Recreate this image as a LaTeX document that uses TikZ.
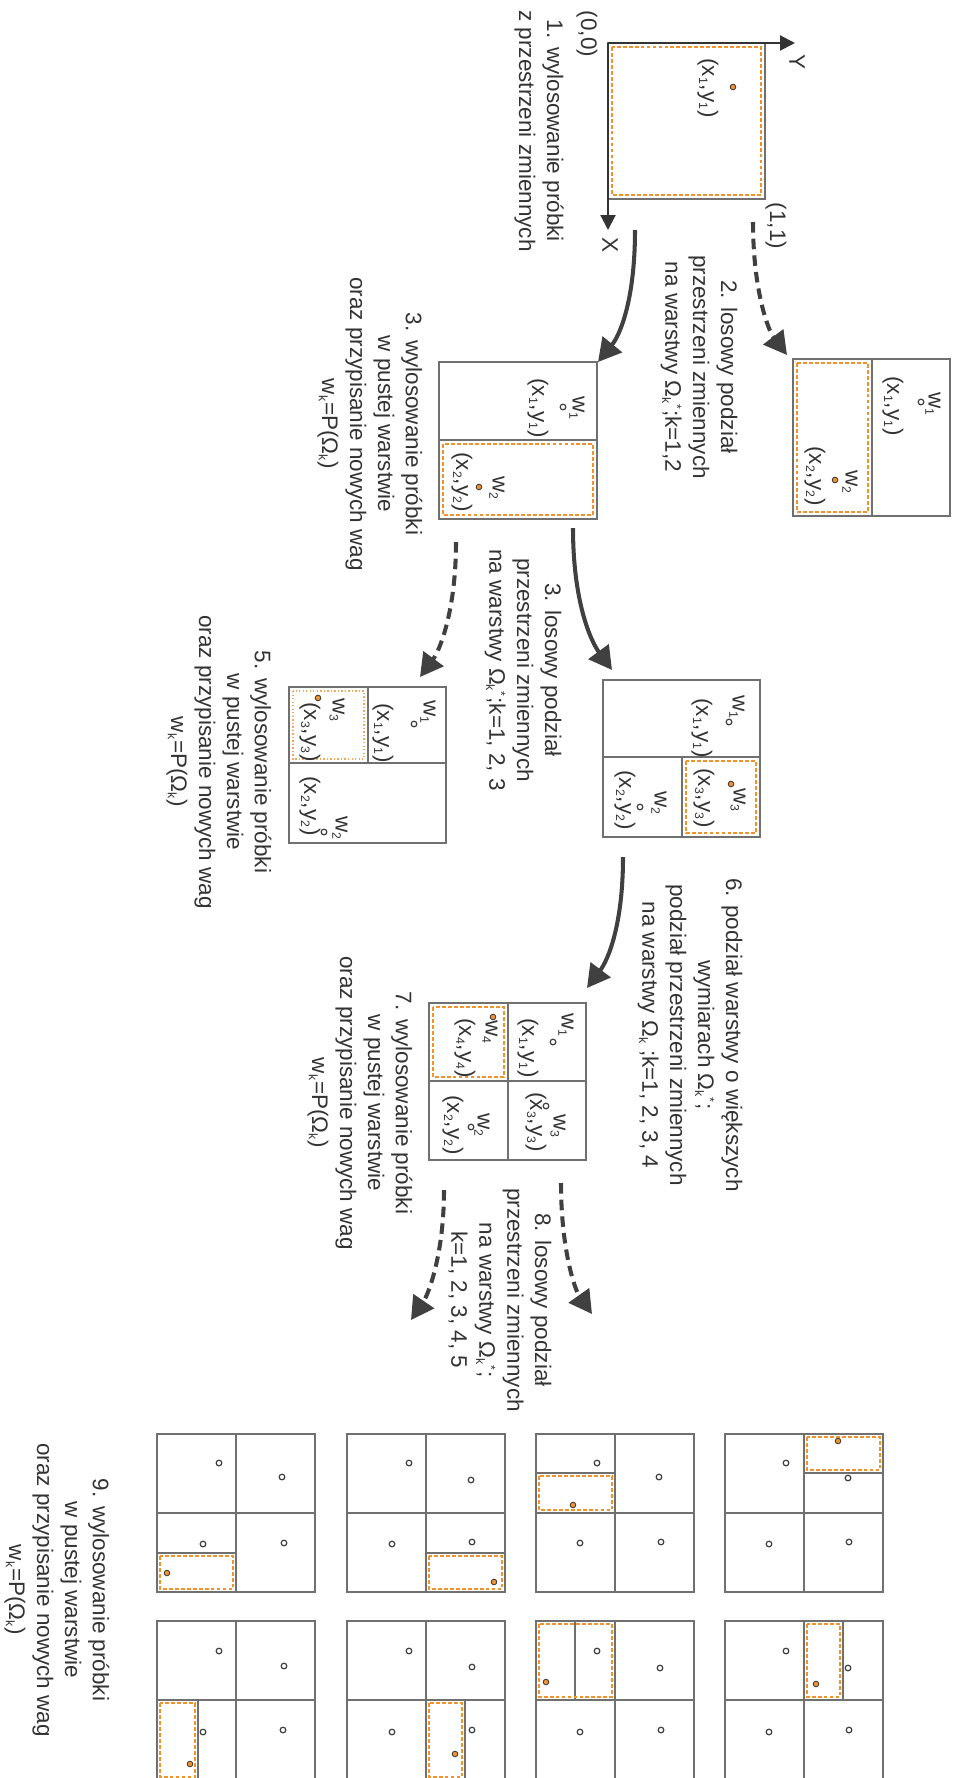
\documentclass[tikz,border=0pt]{standalone}
\usepackage{fontspec}
\setmainfont{Liberation Sans}
\usetikzlibrary{arrows.meta}

\definecolor{boxgray}{HTML}{707070}
\definecolor{arrgray}{HTML}{404040}
\definecolor{txtgray}{HTML}{333333}
\definecolor{sorange}{HTML}{F3922B}

\newcommand{\lsub}[1]{\textsubscript{\fontsize{7}{8}\selectfont #1}}
\newcommand{\wlab}[1]{w\lsub{#1}}
\newcommand{\pxy}[1]{(x\lsub{#1},y\lsub{#1})}
\newcommand{\omk}{Ω\lsub{k}}
\newcommand{\omks}{Ω\lsub{k}\textsuperscript{\fontsize{7}{8}\selectfont *}}

\begin{document}
\begin{tikzpicture}[x=0.02cm, y=-0.02cm,
    box/.style={draw=boxgray, line width=1.1pt},
    samp/.style={draw=sorange, line width=1.2pt, dash pattern=on 2.2pt off 1.2pt},
    sampdot/.style={draw=sorange!80, line width=1.1pt, dash pattern=on 0.8pt off 1.2pt},
    lbl/.style={rotate=-90, text=txtgray, font=\fontsize{12.8}{15.9}\selectfont, inner sep=0pt},
    txt/.style={lbl, align=center},
    pt/.style={draw=arrgray, fill=white, line width=0.7pt},
    opt/.style={draw=arrgray, fill=sorange, line width=0.5pt},
    axis/.style={draw=txtgray, line width=1.2pt, -{Triangle[length=8.5pt,width=8.5pt]}},
    arr/.style={draw=arrgray, line width=2.3pt, -{Triangle[length=13pt,width=14pt]}},
    darr/.style={arr, dash pattern=on 6pt off 3.5pt}]

\useasboundingbox (0,0) rectangle (956,1778);
\fill[white] (0,0) rectangle (956,1778);

% step 1
\draw[samp] (612,47) rectangle (761,195);
\draw[box] (608,43) rectangle (765,199);
\draw[axis] (608,43) -- (795,43);
\draw[axis] (608,43) -- (608,230);
\node[lbl] (ylab) at (797,62) {Y};
\node[lbl] (xlab) at (610,245) {X};
\node[lbl] (o00) at (587,34) {(0,0)};
\node[lbl] (o11) at (776,226) {(1,1)};
\draw[opt] (733,87) circle[radius=1.6pt];
\node[lbl] (p1xy1) at (708,88) {\pxy{1}};
\node[txt] (t1) at (539,131) {1. wylosowanie próbki\\z przestrzeni zmiennych};

% step 2
\draw[samp] (797,363) rectangle (868,512);
\draw[box] (793,359) rectangle (950,516);
\draw[box] (872,359) -- (872,516);
\node[lbl] (p2w1) at (933,404) {\wlab{1}};
\draw[pt] (921,402) circle[radius=1.6pt];
\node[lbl] (p2xy1) at (893,406) {\pxy{1}};
\node[lbl] (p2w2) at (850,482) {\wlab{2}};
\draw[opt] (835,480) circle[radius=1.6pt];
\node[lbl] (p2xy2) at (815,476) {\pxy{2}};
\node[txt] (t2) at (699,367) {2. losowy podział\\przestrzeni zmiennych\\na warstwy \omks;k=1,2};

% step 3
\draw[samp] (443,444) rectangle (593,515);
\draw[box] (439,362) rectangle (597,519);
\draw[box] (439,440) -- (597,440);
\node[lbl] (p3w1) at (577,408) {\wlab{1}};
\draw[pt] (563,407) circle[radius=1.6pt];
\node[lbl] (p3xy1) at (538,408) {\pxy{1}};
\node[lbl] (p3w2) at (497,488) {\wlab{2}};
\draw[opt] (479,487) circle[radius=1.6pt];
\node[lbl] (p3xy2) at (462,482) {\pxy{2}};
\node[txt] (t3) at (370,424) {3. wylosowanie próbki\\w pustej warstwie\\oraz przypisanie nowych wag\\\wlab{k}=P(\omk)};

% step 4
\draw[samp] (686,761) rectangle (756,833);
\draw[box] (603,680) rectangle (760,837);
\draw[box] (603,757) -- (760,757);
\draw[box] (682,757) -- (682,837);
\node[lbl] (p4w1) at (737,707) {\wlab{1}};
\draw[pt] (729,722) circle[radius=1.6pt];
\node[lbl] (p4xy1) at (702,728) {\pxy{1}};
\node[lbl] (p4w3) at (738,800) {\wlab{3}};
\draw[opt] (731,784) circle[radius=1.6pt];
\node[lbl] (p4xy3) at (704,798) {\pxy{3}};
\node[lbl] (p4w2) at (659,803) {\wlab{2}};
\draw[pt] (640,807) circle[radius=1.6pt];
\node[lbl] (p4xy2) at (625,800) {\pxy{2}};
\node[txt] (t4) at (523,670) {3. losowy podział\\przestrzeni zmiennych\\na warstwy \omks;k=1, 2, 3};

% step 5
\draw[sampdot] (293,691) rectangle (364,759);
\draw[box] (289,687) rectangle (446,843);
\draw[box] (289,763) -- (446,763);
\draw[box] (368,687) -- (368,763);
\node[lbl] (p5w1) at (428,712) {\wlab{1}};
\draw[pt] (414,724) circle[radius=1.6pt];
\node[lbl] (p5xy1) at (383,733) {\pxy{1}};
\node[lbl] (p5w3) at (337,710) {\wlab{3}};
\draw[opt] (318,698) circle[radius=1.6pt];
\node[lbl] (p5xy3) at (310,732) {\pxy{3}};
\node[lbl] (p5w2) at (340,828) {\wlab{2}};
\draw[pt] (324,832) circle[radius=1.6pt];
\node[lbl] (p5xy2) at (310,806) {\pxy{2}};
\node[txt] (t5) at (219,762) {5. wylosowanie próbki\\w pustej warstwie\\oraz przypisanie nowych wag\\\wlab{k}=P(\omk)};

% step 6
\draw[samp] (433,1007) rectangle (504,1077);
\draw[box] (429,1003) rectangle (586,1160);
\draw[box] (508,1003) -- (508,1160);
\draw[box] (429,1081) -- (586,1081);
\node[lbl] (p6w1) at (566,1025) {\wlab{1}};
\draw[pt] (553,1042) circle[radius=1.6pt];
\node[lbl] (p6xy1) at (528,1048) {\pxy{1}};
\node[lbl] (p6w4) at (490,1032) {\wlab{4}};
\draw[opt] (493,1017) circle[radius=1.6pt];
\node[lbl] (p6xy4) at (465,1048) {\pxy{4}};
\node[lbl] (p6w3) at (558,1126) {\wlab{3}};
\draw[pt] (546,1106) circle[radius=1.6pt];
\node[lbl] (p6xy3) at (536,1122) {\pxy{3}};
\node[lbl] (p6w2) at (482,1125) {\wlab{2}};
\draw[pt] (471,1127) circle[radius=1.6pt];
\node[lbl] (p6xy2) at (453,1125) {\pxy{2}};
\node[txt] (t6) at (690,1035) {6. podział warstwy o większych\\wymiarach \omks;\\podział przestrzeni zmiennych\\na warstwy \omk{} ;k=1, 2, 3, 4};
\node[txt] (t7) at (360,1103) {7. wylosowanie próbki\\w pustej warstwie\\oraz przypisanie nowych wag\\\wlab{k}=P(\omk)};
\node[txt] (t8) at (500,1300) {8. losowy podział\\przestrzeni zmiennych\\na warstwy \omks;\\k=1, 2, 3, 4, 5};

% arrows
\coordinate (a1s) at (753,222); \coordinate (a1e) at (787,355);
\coordinate (a2s) at (635,230); \coordinate (a2e) at (598,362);
\coordinate (a3s) at (573,528); \coordinate (a3e) at (612,670);
\coordinate (a4s) at (456,542); \coordinate (a4e) at (420,677);
\coordinate (a5s) at (623,857); \coordinate (a5e) at (587,988);
\coordinate (a6s) at (561,1183); \coordinate (a6e) at (592,1314);
\coordinate (a7s) at (444,1190); \coordinate (a7e) at (411,1320);
\draw[darr] (a1s) .. controls (753,290) and (768,330) .. (a1e);
\draw[arr] (a2s) .. controls (635,300) and (620,335) .. (a2e);
\draw[arr] (a3s) .. controls (573,600) and (590,640) .. (a3e);
\draw[darr] (a4s) .. controls (456,610) and (440,650) .. (a4e);
\draw[arr] (a5s) .. controls (623,925) and (608,960) .. (a5e);
\draw[darr] (a6s) .. controls (561,1250) and (575,1290) .. (a6e);
\draw[darr] (a7s) .. controls (444,1255) and (428,1295) .. (a7e);

% step 9: all splits
\foreach \gx in {157,347,536,725}
  \foreach \gy in {1434,1621}{
    \draw[box] (\gx,\gy) rectangle ++(158,158);
    \draw[box] (\gx+79,\gy) -- ++(0,158);
    \draw[box] (\gx,\gy+79) -- ++(158,0);
  }
\draw[box] (157,1553) -- (236,1553);
\draw[box] (426,1553) -- (505,1553);
\draw[box] (536,1473) -- (615,1473);
\draw[box] (804,1473) -- (883,1473);
\draw[box] (198,1700) -- (198,1779);
\draw[box] (465,1700) -- (465,1779);
\draw[box] (575,1621) -- (575,1700);
\draw[box] (843,1621) -- (843,1700);
\draw[samp] (160,1556) rectangle (233,1589);
\draw[samp] (429,1556) rectangle (502,1589);
\draw[samp] (539,1476) rectangle (612,1510);
\draw[samp] (807,1437) rectangle (880,1470);
\draw[samp] (160,1703) rectangle (195,1777);
\draw[samp] (429,1703) rectangle (462,1777);
\draw[samp] (539,1624) rectangle (612,1697);
\draw[samp] (807,1624) rectangle (840,1697);
\foreach \p in {(167,1573),(494,1582),(573,1505),(838,1441),(190,1764),(455,1754),(546,1682),(816,1684)}
  \draw[opt] \p circle[radius=1.6pt];
\foreach \p in {(219,1463),(282,1477),(203,1544),(284,1543),
                (409,1463),(471,1480),(392,1544),(472,1542),
                (597,1463),(659,1477),(580,1543),(661,1542),
                (786,1463),(848,1478),(769,1544),(849,1542),
                (219,1651),(284,1666),(203,1732),(283,1730),
                (409,1651),(472,1667),(392,1732),(472,1730),
                (597,1651),(660,1668),(580,1732),(661,1730),
                (786,1651),(848,1668),(769,1732),(849,1730)}
  \draw[pt] \p circle[radius=1.6pt];
\node[txt] (t9) at (57,1590) {9. wylosowanie próbki\\w pustej warstwie\\oraz przypisanie nowych wag\\\wlab{k}=P(\omk)};
\end{tikzpicture}
\end{document}
